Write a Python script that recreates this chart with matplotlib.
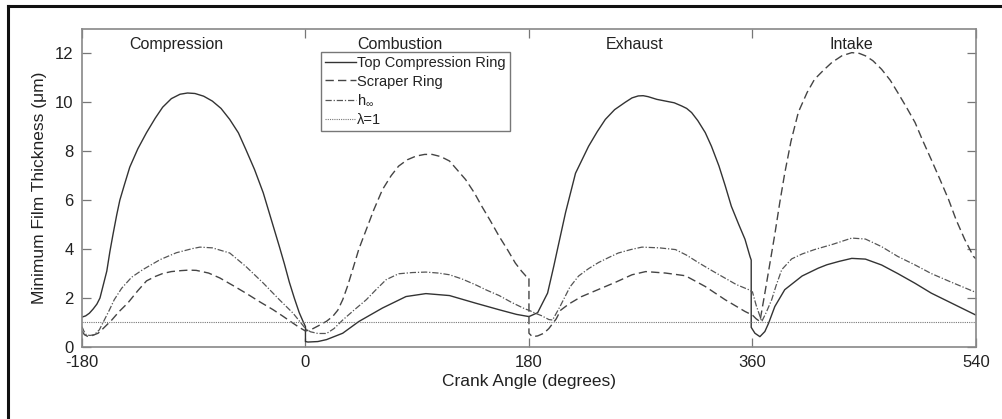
import matplotlib
matplotlib.use("Agg")
import matplotlib.pyplot as plt
from matplotlib.lines import Line2D

plt.rcParams['font.family'] = ['Liberation Sans', 'DejaVu Sans']
plt.rcParams['mathtext.fontset'] = 'custom'
plt.rcParams['mathtext.rm'] = 'Liberation Sans'
plt.rcParams['mathtext.it'] = 'Liberation Sans'
plt.rcParams['axes.unicode_minus'] = False

# Top compression ring (solid)
top_angle = [-180, -177, -174, -171, -168, -165.5, -163, -160, -157.5, -155, -152, -149.5,
             -146, -141.5, -135, -128, -121, -115, -108, -101, -95, -89, -82, -75, -68, -61,
             -54, -48, -41, -34, -27.5, -21, -17, -13, -9, -5, -2, 0, 0, 2, 10, 17, 30, 43,
             62, 81, 97, 116, 137, 156, 170, 180, 187, 195, 200, 203, 209.5, 217.5, 228, 235,
             241.5, 249, 257.5, 263, 268, 272, 276, 283, 290, 297, 303, 307, 311, 316, 322,
             327, 333, 338, 343, 349, 354, 358, 359, 359, 362, 366, 370, 373, 378, 386, 400,
             413, 420, 430, 440, 451, 464, 477, 491, 504, 520, 540]
top_h = [1.22, 1.27, 1.38, 1.55, 1.75, 2.0, 2.5, 3.1, 3.9, 4.6, 5.4, 6.0,
         6.6, 7.35, 8.1, 8.76, 9.35, 9.8, 10.15, 10.33, 10.38, 10.36, 10.25, 10.05, 9.75, 9.3,
         8.75, 8.07, 7.25, 6.3, 5.2, 4.1, 3.4, 2.65, 2.0, 1.4, 1.05, 0.83, 0.22, 0.2, 0.22,
         0.3, 0.56, 1.04, 1.59, 2.06, 2.18, 2.1, 1.79, 1.52, 1.33, 1.24, 1.4, 2.2, 3.3, 4.0,
         5.5, 7.1, 8.2, 8.8, 9.3, 9.7, 10.0, 10.18, 10.26, 10.27, 10.23, 10.12, 10.05, 9.98,
         9.85, 9.75, 9.58, 9.25, 8.76, 8.2, 7.4, 6.6, 5.75, 5.0, 4.4, 3.7, 3.55, 0.8, 0.56,
         0.42, 0.63, 0.97, 1.65, 2.34, 2.9, 3.22, 3.36, 3.5, 3.62, 3.59, 3.35, 3.0, 2.6, 2.2,
         1.8, 1.3]

# Scraper ring (dashed)
scr_angle = [-180, -178, -175, -171, -167, -163, -156, -150, -143, -135, -128, -121, -115,
             -108, -100, -94, -88, -78, -69, -58, -48, -37, -26, -18, -10, -5, 0, 5, 11, 17,
             22, 26, 30, 34, 38, 43, 49, 55, 62, 69, 75, 82, 89, 96, 102, 109, 116, 122, 129,
             136, 142, 149, 156, 163, 169, 174, 177.5, 180, 180, 182.7, 187, 192, 196, 199,
             202, 205.5, 212, 222, 236, 250, 263, 274, 290, 306, 322, 338, 354, 358, 360, 363,
             366, 370, 374, 378, 382, 386, 391, 397, 404, 410, 417, 424, 432, 440, 446, 451,
             457, 464, 471, 477, 484, 491, 497, 504, 511, 518, 524, 531, 538, 540]
scr_h = [0.65, 0.5, 0.42, 0.48, 0.56, 0.75, 1.1, 1.45, 1.8, 2.3, 2.7, 2.88, 3.0,
         3.08, 3.12, 3.14, 3.13, 3.02, 2.82, 2.5, 2.2, 1.85, 1.52, 1.25, 0.97, 0.8, 0.65,
         0.72, 0.88, 1.05, 1.25, 1.5, 1.93, 2.5, 3.16, 4.0, 4.8, 5.6, 6.43, 7.0, 7.39, 7.65,
         7.8, 7.87, 7.87, 7.78, 7.6, 7.25, 6.84, 6.3, 5.75, 5.15, 4.52, 3.95, 3.43, 3.1, 2.9,
         2.85, 0.56, 0.42, 0.45, 0.56, 0.75, 0.95, 1.15, 1.5, 1.75, 2.05, 2.35, 2.65, 2.95,
         3.08, 3.02, 2.91, 2.47, 1.93, 1.45, 1.35, 1.3, 1.15, 1.04, 2.2, 3.4, 4.6, 5.9, 7.1,
         8.4, 9.6, 10.4, 10.94, 11.3, 11.63, 11.9, 12.03, 12.0, 11.9, 11.7, 11.35, 10.9,
         10.4, 9.8, 9.17, 8.45, 7.66, 6.85, 6.02, 5.2, 4.39, 3.7, 3.6]

# h infinity (dash-dot)
hinf_angle = [-180, -178.5, -176.5, -173.5, -170, -166, -162, -158, -154, -148, -140, -131,
              -117, -104, -91, -85, -75, -61, -48, -34, -21, -10, 0, 4, 10, 17, 23, 30, 39,
              49, 57, 65, 75, 86, 97, 107, 116, 126, 137, 146, 156, 166, 177, 180, 185, 190,
              196, 199, 205, 213, 220, 228, 236, 244, 252, 262, 271, 285, 298, 307, 317, 328,
              338, 347, 357, 360, 363, 367.5, 371, 375.5, 379, 383.6, 391.6, 400, 410, 425,
              440, 451, 464, 477, 491, 504, 520, 538, 540]
hinf_h = [0.83, 0.65, 0.49, 0.47, 0.5, 0.7, 1.1, 1.5, 1.93, 2.4, 2.85, 3.16,
          3.57, 3.85, 4.02, 4.08, 4.05, 3.84, 3.29, 2.61, 1.93, 1.38, 0.75, 0.62, 0.55, 0.55,
          0.75, 1.1, 1.5, 1.93, 2.35, 2.75, 2.99, 3.04, 3.06, 3.02, 2.95, 2.78, 2.54, 2.32,
          2.1, 1.82, 1.55, 1.5, 1.38, 1.28, 1.12, 1.1, 1.65, 2.45, 2.9, 3.2, 3.45, 3.65, 3.84,
          3.98, 4.08, 4.05, 3.98, 3.75, 3.43, 3.1, 2.81, 2.55, 2.34, 2.25, 1.7, 1.04, 1.4,
          1.93, 2.5, 3.16, 3.6, 3.8, 3.98, 4.2, 4.45, 4.41, 4.1, 3.7, 3.35, 3.0, 2.65, 2.27,
          2.22]

# lambda = 1 limit
lam_angle = [-180, 540]
lam_h = [1.0, 1.0]

stroke_names = ['Compression', 'Combustion', 'Exhaust', 'Intake']
stroke_x = [-103.7, 76.3, 265.2, 439.6]
stroke_y = 12.38

x_ticks = [-180, 0, 180, 360, 540]
y_ticks = [0, 2, 4, 6, 8, 10, 12]

fig = plt.figure(figsize=(10.02, 4.19), dpi=100)
ax = fig.add_axes([0.0818, 0.172, 0.8922, 0.759])

ax.plot(top_angle, top_h, color='#333333', lw=1.0, label='Top Compression Ring')
ax.plot(scr_angle, scr_h, color='#444444', lw=1.0, dashes=(6, 3), label='Scraper Ring')
ax.plot(hinf_angle, hinf_h, color='#555555', lw=0.9, dashes=(5, 1.5, 1, 1.5),
        label=r'h$_{\infty}$')
ax.plot(lam_angle, lam_h, color='#777777', lw=0.8, dashes=(1, 1), label=r'λ=1')

for name, xs in zip(stroke_names, stroke_x):
    ax.text(xs, stroke_y, name, ha='center', va='center', fontsize=11.5, color='#222222')

ax.set_xlim(-180, 540)
ax.set_ylim(0, 13)
ax.set_xticks(x_ticks)
ax.set_yticks(y_ticks)
ax.tick_params(direction='in', length=6.5, width=0.9, color='#777777', labelsize=12,
               labelcolor='#222222', top=True, right=True, pad=6)
for sp in ax.spines.values():
    sp.set_color('#888888')
    sp.set_linewidth(1.2)

ax.set_xlabel('Crank Angle (degrees)', fontsize=12.5, color='#222222', labelpad=3)
ax.set_ylabel('Minimum Film Thickness (μm)', fontsize=12.5, color='#222222', labelpad=6)

leg = ax.legend(loc='upper left', bbox_to_anchor=(0.267, 0.928), borderaxespad=0,
                fontsize=10.5, handlelength=2.1, handletextpad=0.1, borderpad=0.3,
                labelspacing=0.3, fancybox=False, framealpha=1)
leg.get_frame().set_edgecolor('#777777')
leg.get_frame().set_linewidth(1.0)
for t in leg.get_texts():
    t.set_color('#222222')

# image frame (left and top edges only)
fig.add_artist(Line2D([0.008, 0.008], [0, 0.986], transform=fig.transFigure,
                      color='#111111', lw=2.2))
fig.add_artist(Line2D([0.008, 1.0], [0.986, 0.986], transform=fig.transFigure,
                      color='#111111', lw=2.2))

fig.savefig('out.png', dpi=100)
